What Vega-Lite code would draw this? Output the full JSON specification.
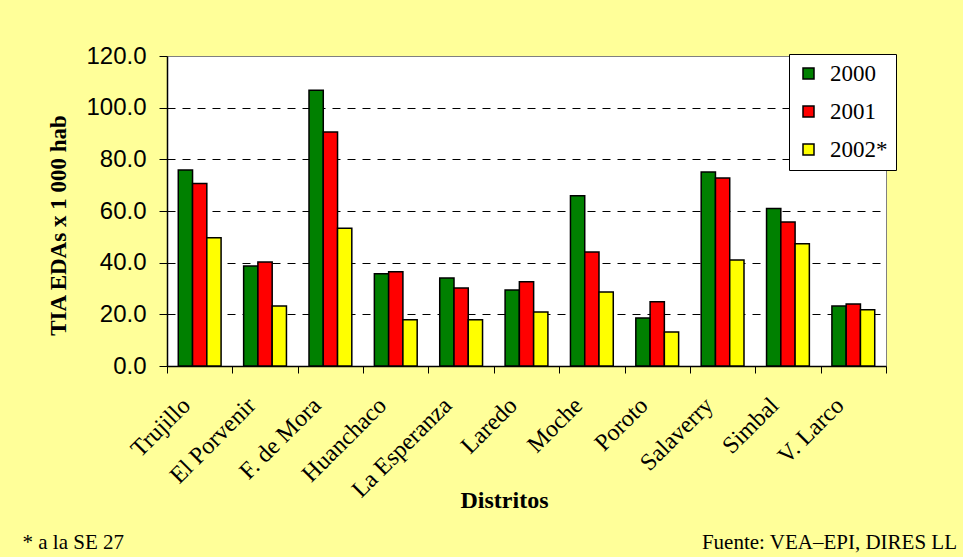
{
  "$schema": "https://vega.github.io/schema/vega-lite/v6.json",
  "autosize": "none",
  "width": 719,
  "height": 310,
  "padding": {"left": 167, "top": 56, "right": 77, "bottom": 191},
  "background": "#FFFF99",
  "title": {
    "text": "Fuente: VEA–EPI, DIRES LL",
    "orient": "bottom",
    "anchor": "end",
    "frame": "group",
    "font": "Liberation Serif",
    "fontSize": 21,
    "fontWeight": "normal",
    "color": "black",
    "dx": 71,
    "dy": -20,
    "offset": 0
  },
  "data": {
    "values": [
      {"Distrito": "Trujillo", "Año": "2000", "Valor": 75.9},
      {"Distrito": "Trujillo", "Año": "2001", "Valor": 70.6},
      {"Distrito": "Trujillo", "Año": "2002*", "Valor": 49.6},
      {"Distrito": "El Porvenir", "Año": "2000", "Valor": 38.7},
      {"Distrito": "El Porvenir", "Año": "2001", "Valor": 40.3},
      {"Distrito": "El Porvenir", "Año": "2002*", "Valor": 23.2},
      {"Distrito": "F. de Mora", "Año": "2000", "Valor": 106.7},
      {"Distrito": "F. de Mora", "Año": "2001", "Valor": 90.6},
      {"Distrito": "F. de Mora", "Año": "2002*", "Valor": 53.3},
      {"Distrito": "Huanchaco", "Año": "2000", "Valor": 35.7},
      {"Distrito": "Huanchaco", "Año": "2001", "Valor": 36.5},
      {"Distrito": "Huanchaco", "Año": "2002*", "Valor": 17.9},
      {"Distrito": "La Esperanza", "Año": "2000", "Valor": 34.1},
      {"Distrito": "La Esperanza", "Año": "2001", "Valor": 30.2},
      {"Distrito": "La Esperanza", "Año": "2002*", "Valor": 17.9},
      {"Distrito": "Laredo", "Año": "2000", "Valor": 29.4},
      {"Distrito": "Laredo", "Año": "2001", "Valor": 32.6},
      {"Distrito": "Laredo", "Año": "2002*", "Valor": 20.9},
      {"Distrito": "Moche", "Año": "2000", "Valor": 65.9},
      {"Distrito": "Moche", "Año": "2001", "Valor": 44.1},
      {"Distrito": "Moche", "Año": "2002*", "Valor": 28.6},
      {"Distrito": "Poroto", "Año": "2000", "Valor": 18.6},
      {"Distrito": "Poroto", "Año": "2001", "Valor": 24.9},
      {"Distrito": "Poroto", "Año": "2002*", "Valor": 13.2},
      {"Distrito": "Salaverry", "Año": "2000", "Valor": 75.1},
      {"Distrito": "Salaverry", "Año": "2001", "Valor": 72.8},
      {"Distrito": "Salaverry", "Año": "2002*", "Valor": 41.0},
      {"Distrito": "Simbal", "Año": "2000", "Valor": 61.0},
      {"Distrito": "Simbal", "Año": "2001", "Valor": 55.7},
      {"Distrito": "Simbal", "Año": "2002*", "Valor": 47.3},
      {"Distrito": "V. Larco", "Año": "2000", "Valor": 23.2},
      {"Distrito": "V. Larco", "Año": "2001", "Valor": 24.0},
      {"Distrito": "V. Larco", "Año": "2002*", "Valor": 21.8}
    ]
  },
  "resolve": {"axis": {"x": "independent"}},
  "layer": [
    {
      "mark": {"type": "bar", "stroke": "black", "strokeWidth": 1.5},
      "encoding": {
        "x": {
          "field": "Distrito",
          "type": "nominal",
          "sort": null,
          "scale": {"paddingInner": 0, "paddingOuter": 0},
          "axis": {
            "orient": "bottom",
            "title": "Distritos",
            "titleFont": "Liberation Serif",
            "titleFontSize": 24,
            "titleFontWeight": "bold",
            "titleColor": "black",
            "titleX": 337,
            "titleY": 141,
            "titleBaseline": "alphabetic",
            "labelAngle": -45,
            "labelFont": "Liberation Serif",
            "labelFontSize": 24,
            "labelColor": "black",
            "labelPadding": 20,
            "labelOffset": -22,
            "tickBand": "extent",
            "tickSize": 7,
            "tickColor": "black",
            "domainColor": "black",
            "domainWidth": 1.5,
            "grid": false
          }
        },
        "xOffset": {
          "field": "Año",
          "type": "nominal",
          "scale": {"paddingInner": 0, "paddingOuter": 0.79}
        },
        "y": {
          "field": "Valor",
          "type": "quantitative",
          "scale": {"domain": [0, 120], "nice": false},
          "axis": {
            "title": "TIA EDAs x 1 000 hab",
            "titleFont": "Liberation Serif",
            "titleFontSize": 23,
            "titleFontWeight": "bold",
            "titleColor": "black",
            "titlePadding": 15,
            "titleY": 169,
            "values": [0, 20, 40, 60, 80, 100, 120],
            "format": ".1f",
            "labelFont": "Liberation Sans",
            "labelFontSize": 24,
            "labelColor": "black",
            "labelPadding": 13,
            "tickSize": 8,
            "tickColor": "black",
            "domainColor": "black",
            "domainWidth": 1.5,
            "grid": true,
            "gridColor": "black",
            "gridDash": [8, 7],
            "gridWidth": 1,
            "gridOpacity": {"condition": {"test": "datum.value == 0 || datum.value == 120", "value": 0}, "value": 1}
          }
        },
        "color": {
          "field": "Año",
          "type": "nominal",
          "scale": {"domain": ["2000", "2001", "2002*"], "range": ["#008000", "#FF0000", "#FFFF00"]},
          "legend": {
            "title": null,
            "orient": "none",
            "legendX": 622,
            "legendY": -2,
            "fillColor": "white",
            "strokeColor": "black",
            "padding": 8,
            "symbolType": "square",
            "symbolSize": 121,
            "symbolStrokeColor": "black",
            "symbolStrokeWidth": 1.5,
            "labelFont": "Liberation Serif",
            "labelFontSize": 23,
            "labelColor": "black",
            "labelOffset": 10,
            "rowPadding": 14
          }
        }
      }
    },
    {
      "mark": {"type": "point", "opacity": 0},
      "encoding": {
        "x": {
          "field": "Distrito",
          "type": "nominal",
          "sort": null,
          "axis": {
            "orient": "bottom",
            "title": "* a la SE 27",
            "titleFont": "Liberation Serif",
            "titleFontSize": 21,
            "titleFontWeight": "normal",
            "titleColor": "black",
            "titleX": -145,
            "titleY": 182,
            "titleAlign": "left",
            "titleAnchor": "start",
            "titleBaseline": "alphabetic",
            "labels": false,
            "ticks": false,
            "domain": false,
            "grid": false
          }
        }
      }
    }
  ],
  "config": {
    "font": "Liberation Serif",
    "view": {"fill": "white", "stroke": "#808080", "strokeWidth": 1},
    "legend": {"labelFont": "Liberation Serif", "labelFontSize": 23}
  }
}
